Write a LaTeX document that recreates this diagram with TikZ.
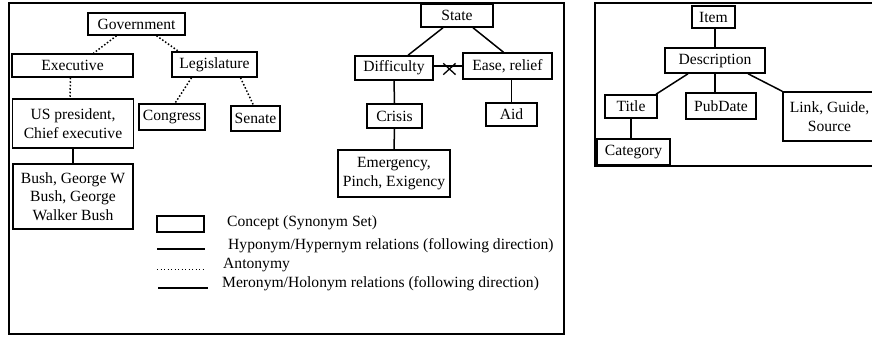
\documentclass[tikz,border=0pt]{standalone}
\usepackage{fontspec}
\setmainfont{Liberation Serif}
\usetikzlibrary{shapes.misc}

\begin{document}
\begin{tikzpicture}[x=1pt, y=-1pt]
		\tikzset{concept/.style = {shape=rectangle, draw, line width=1.5pt, inner sep=0pt, align=center, font=\fontsize{15.6}{18.5}\selectfont}}
		\tikzset{hypo/.style = {line width=1.5pt}}
		\tikzset{anto/.style = {line width=1.5pt, dash pattern=on 1.5pt off 2pt}}
		\tikzset{dotline/.style = {line width=0.9pt, dash pattern=on 0.9pt off 2.6pt}}
		\tikzset{crossmark/.style = {shape=cross out, draw, line width=1.3pt, minimum width=11pt, minimum height=10pt, inner sep=0pt}}
		\tikzset{legendtext/.style = {anchor=west, inner sep=0pt, font=\fontsize{15.6}{18.5}\selectfont}}

		\useasboundingbox (0,0) rectangle (872,338);

		%frames
		\draw[line width=1.2pt] (9,3) rectangle (564,334);
		\draw[line width=1.2pt] (595,3) rectangle (878,166);

		%government
		\node[concept, minimum width=97pt, minimum height=22pt] (G_1) at (136.5,24) {Government};
		\node[concept, minimum width=121pt, minimum height=23pt] (G_2) at (72.5,65.5) {Executive};
		\node[concept, minimum width=85pt, minimum height=25pt] (G_3) at (214.5,64.5) {Legislature};
		\node[concept, minimum width=66pt, minimum height=26pt] (G_4) at (172,117) {Congress};
		\node[concept, minimum width=121pt, minimum height=49pt] (G_5) at (73,123.5) {US president,\\Chief executive};
		\node[concept, minimum width=49pt, minimum height=25pt] (G_6) at (255.5,118.5) {Senate};
		\node[concept, minimum width=120pt, minimum height=65pt] (G_7) at (73,196.5) {Bush, George W\\Bush, George\\Walker Bush};

		\draw[anto] ([xshift=-20pt]G_1.south) -- ([xshift=21pt]G_2.north);
		\draw[anto] ([xshift=20pt]G_1.south) -- ([xshift=-36pt]G_3.north);
		\draw[anto] ([xshift=-2pt]G_2.south) -- ([xshift=-3pt]G_5.north);
		\draw[anto] ([xshift=-23pt]G_3.south) -- ([xshift=3pt]G_4.north);
		\draw[anto] ([xshift=26pt]G_3.south) -- ([xshift=-2pt]G_6.north);
		\draw[hypo] (G_5.south) -- (G_7.north);

		%state
		\node[concept, minimum width=72pt, minimum height=23pt] (S_1) at (457,15.5) {State};
		\node[concept, minimum width=78pt, minimum height=24pt] (S_2) at (394,68) {Difficulty};
		\node[concept, minimum width=89pt, minimum height=26pt] (S_3) at (507.5,66) {Ease, relief};
		\node[concept, minimum width=55pt, minimum height=24pt] (S_4) at (394.5,116) {Crisis};
		\node[concept, minimum width=51pt, minimum height=23pt] (S_5) at (511.5,114.5) {Aid};
		\node[concept, minimum width=112pt, minimum height=47pt] (S_6) at (394,173.5) {Emergency,\\Pinch, Exigency};

		\draw[hypo] ([xshift=-14pt]S_1.south) -- ([xshift=14pt]S_2.north);
		\draw[hypo] ([xshift=16pt]S_1.south) -- ([xshift=-4pt]S_3.north);
		\draw[hypo] (S_2.east |- S_3) -- node[crossmark, pos=0.55, yshift=-3pt] (X_1) {} (S_3.west);
		\draw[hypo] (S_2.south) -- (S_4.north);
		\draw[hypo] (S_4.south) -- (S_6.north);
		\draw[hypo] (S_5.north |- S_3.south) -- (S_5.north);

		%item
		\node[concept, minimum width=43pt, minimum height=22pt] (R_1) at (713.5,17) {Item};
		\node[concept, minimum width=100pt, minimum height=25pt] (R_2) at (715,60.5) {Description};
		\node[concept, minimum width=52pt, minimum height=23pt] (R_3) at (631,106.5) {Title};
		\node[concept, minimum width=70pt, minimum height=26pt] (R_4) at (721,106) {PubDate};
		\node[concept, minimum width=93pt, minimum height=49pt] (R_5) at (829.5,116.5) {Link, Guide,\\Source};
		\node[concept, minimum width=73pt, minimum height=26pt] (R_6) at (633.5,152) {Category};

		\draw[hypo] (R_2.north |- R_1.south) -- (R_2.north);
		\draw[hypo] ([xshift=-27pt]R_2.south) -- ([xshift=25pt]R_3.north);
		\draw[hypo] (R_2.south) -- (R_2.south |- R_4.north);
		\draw[hypo] ([xshift=33pt]R_2.south) -- (R_5.north west);
		\draw[hypo] (R_3.south) -- (R_3.south |- R_6.north);

		%legend
		\node[concept, minimum width=47pt, minimum height=16pt] (L_1) at (180.5,224) {};
		\node[legendtext] (T_1) at (227,223) {Concept (Synonym Set)};

		\coordinate (L_2) at (157,249);
		\coordinate (L_3) at (205,249);
		\draw[hypo] (L_2) -- (L_3);
		\node[legendtext] (T_2) at (228,246) {Hyponym/Hypernym relations (following direction)};

		\coordinate (L_4) at (157,269);
		\coordinate (L_5) at (203,269);
		\draw[dotline] (L_4) -- (L_5);
		\node[legendtext] (T_3) at (223,265) {Antonymy};

		\coordinate (L_6) at (158,288);
		\coordinate (L_7) at (208,288);
		\draw[hypo] (L_6) -- (L_7);
		\node[legendtext] (T_4) at (222,284) {Meronym/Holonym relations (following direction)};

	\end{tikzpicture}
\end{document}
